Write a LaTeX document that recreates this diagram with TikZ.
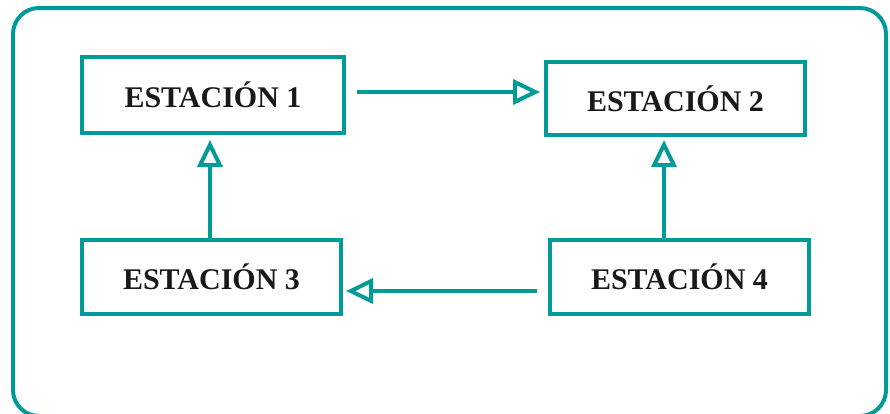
\documentclass[tikz,border=0pt]{standalone}
\usepackage{fontspec}
\setmainfont{Liberation Serif}
\usetikzlibrary{arrows.meta}

\definecolor{verdeazul}{RGB}{0,155,152}

\tikzset{
	estacion/.style = {rectangle, draw=verdeazul, line width=4pt,
		inner sep=0pt, font=\fontsize{30}{34}\selectfont\bfseries,
		text=black!90},
	flecha/.style = {draw=verdeazul, line width=4pt,
		-{Triangle[open, length=27pt, width=25pt]}}
}

\begin{document}
\begin{tikzpicture}[x=1pt, y=-1pt]
				\useasboundingbox (0,0) rectangle (890,413);
				% marco exterior
				\draw[verdeazul, line width=4pt, rounded corners=26pt] (13,8) rectangle (886,416);
				\node[estacion,
				minimum width = 262pt,
				minimum height = 76pt] (1) at(213,95){ESTACIÓN 1};
				\node[estacion,
				minimum width = 259pt,
				minimum height = 73pt] (2) at(675.5,98.5){ESTACIÓN 2};
				\node[estacion,
				minimum width = 259pt,
				minimum height = 74pt] (3) at(211.5,277){ESTACIÓN 3};
				\node[estacion,
				minimum width = 259pt,
				minimum height = 74pt] (4) at(679.5,277){ESTACIÓN 4};
				\draw[flecha, shorten <=11pt, shorten >=4pt] ([yshift=3pt]1.east) -- ([yshift=3pt]1.east -| 2.west);
				\draw[flecha, shorten >=5pt] ([xshift=-1.5pt]3.north) -- ([xshift=-1.5pt]3.north |- 1.south);
				\draw[flecha, shorten >=3pt] ([xshift=-15.5pt]4.north) -- ([xshift=-15.5pt]4.north |- 2.south);
				\draw[flecha, shorten <=11pt, shorten >=3pt] ([yshift=-14pt]4.west) -- ([yshift=-14pt]4.west -| 3.east);
			\end{tikzpicture}
\end{document}
